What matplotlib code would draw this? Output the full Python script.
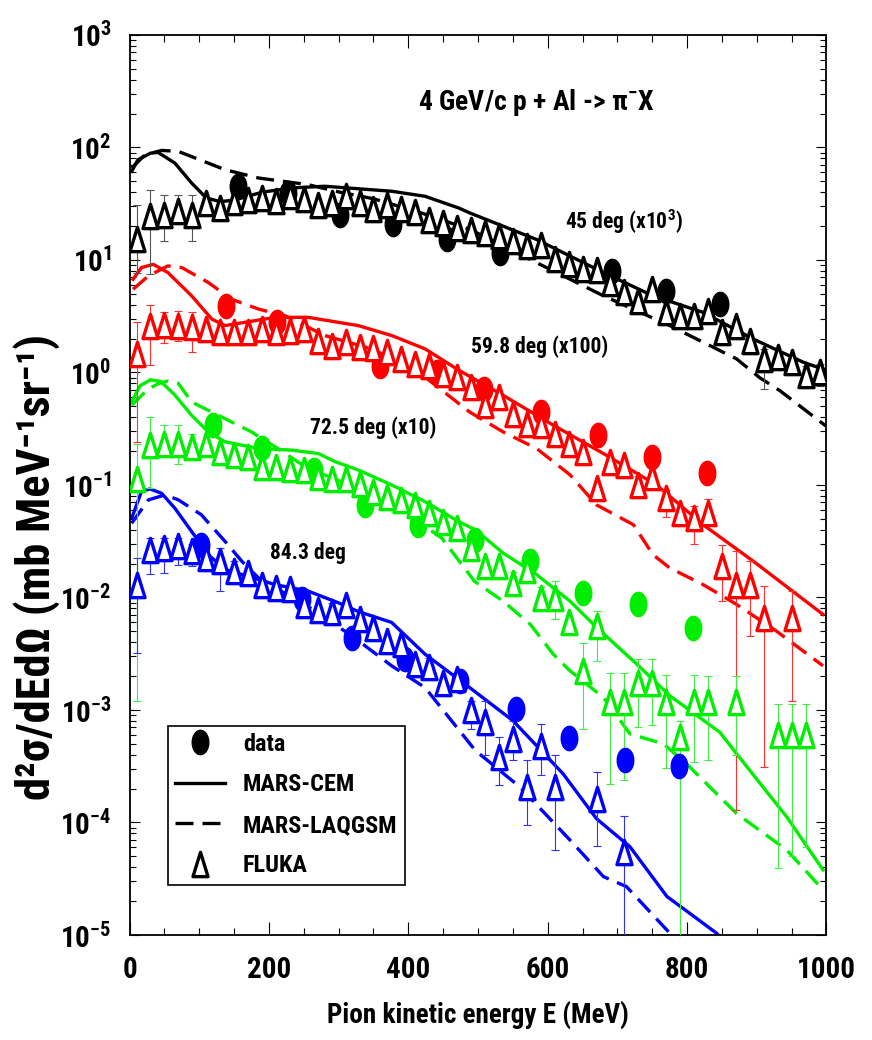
import numpy as np
import matplotlib
matplotlib.use('Agg')
import matplotlib.pyplot as plt
from matplotlib.path import Path
from matplotlib.lines import Line2D
from matplotlib.legend_handler import HandlerLine2D
from matplotlib.ticker import (LogLocator, MultipleLocator, NullFormatter,
                               FixedLocator, LogFormatterSciNotation)

FONT = ['Roboto Condensed', 'Liberation Sans Narrow', 'Liberation Sans', 'DejaVu Sans']
plt.rcParams['font.family'] = FONT
plt.rcParams['font.weight'] = 'bold'
plt.rcParams['mathtext.default'] = 'regular'

nan = float('nan')

# ---------------- data ----------------
fluka_e = [10, 30, 50, 70, 90, 110, 130, 150, 170, 190, 210, 230, 250, 270, 290,
           310, 330, 350, 370, 390, 410, 430, 450, 470, 490, 510, 530, 550, 570,
           590, 610, 630, 650, 670, 690, 710, 730, 750, 770, 790, 810, 830, 850,
           870, 890, 910, 930, 950, 970, 990]

# 45 deg (x10^3)
black_fluka = [15.4, 24.5, 25.3, 27.1, 25.3, 32.2, 29.0, 32.6, 34.4, 35.6, 33.3, 36.8,
               34.9, 31.0, 32.2, 36.8, 32.2, 28.4, 31.0, 28.4, 26.6, 22.6, 21.4, 19.3,
               18.5, 17.4, 16.3, 14.7, 13.3, 13.7, 10.1, 9.15, 8.26, 8.16, 6.30, 5.21,
               4.34, 5.49, 3.42, 3.19, 3.19, 3.54, 2.27, 2.61, 1.92, 1.32, 1.37, 1.23,
               0.94, 1.01]
black_err_e = [10, 30, 50, 70, 90, 910, 970, 990]
black_err_lo = [7.7, 7.46, 14.7, 21.4, 14.7, 0.72, 0.74, 0.76]
black_err_hi = [31.0, 42.0, 38.0, 38.0, 38.0, 1.6, 1.15, 1.2]
black_data_e = [156, 228, 302, 378, 455, 531, 692, 770, 847]
black_data = [45.2, 39.4, 25.3, 20.7, 15.2, 11.6, 8.0, 5.32, 4.05]
black_cem_e = [3, 12, 30, 41, 65, 89, 110, 130, 150, 190, 232, 280, 376, 424, 472,
               488, 584, 680, 751, 823, 895, 967, 999]
black_cem = [61.3, 77.7, 89.0, 90.3, 72.6, 48.3, 35.6, 33.0, 34.0, 40.0, 43.6, 45.2,
             40.8, 36.8, 29.0, 26.2, 15.2, 7.72, 4.80, 3.42, 1.98, 1.23, 1.05]
black_laq_e = [3, 22, 46, 70, 137, 185, 256, 302, 350, 420, 488, 584, 680, 775, 871,
               904, 933, 999]
black_laq = [65.6, 86.0, 94.1, 92.2, 63.4, 53.5, 46.7, 40.0, 35.0, 26.0, 18.7, 9.46,
             4.80, 2.61, 1.32, 0.90, 0.69, 0.335]

# 59.8 deg (x100)
red_fluka = [1.461, 2.61, 2.64, 2.61, 2.52, 2.43, 2.27, 2.31, 2.27, 2.43, 2.27, 2.35,
             2.43, 1.92, 1.73, 1.85, 1.67, 1.64, 1.51, 1.32, 1.19, 1.15, 0.972, 0.909,
             0.75, 0.511, 0.605, 0.430, 0.351, 0.340, 0.286, 0.233, 0.197, 0.0933,
             0.161, 0.150, 0.100, 0.118, 0.0761, 0.0561, 0.0506, 0.0561, 0.0189,
             0.0130, 0.0130, 0.0066, nan, 0.0066, nan, nan]
red_err_e = [10, 30, 50, 70, 90, 730, 770, 810, 830, 850, 870, 890, 910, 950]
red_err_lo = [0.24, 1.17, 1.83, 1.92, 1.53, 0.081, 0.052, 0.030, 0.045, 0.0093,
              1.3e-4, 4.5e-3, 3.1e-4, 1.2e-3]
red_err_hi = [2.79, 3.96, 3.42, 3.5, 3.42, 0.12, 0.09, 0.065, 0.075, 0.0294,
              0.0257, 0.021, 0.0126, 0.0114]
red_data_e = [139, 211, 359, 441, 508, 591, 672, 749, 829]
red_data = [3.92, 2.79, 1.15, 1.0, 0.716, 0.445, 0.277, 0.178, 0.127]
red_cem_e = [5, 17, 34, 55, 89, 118, 137, 209, 256, 328, 376, 424, 472, 536, 608,
             680, 756, 823, 895, 995]
red_cem = [6.73, 8.55, 9.14, 7.72, 4.80, 2.98, 2.61, 3.09, 3.09, 2.61, 2.13, 1.62,
           1.05, 0.626, 0.340, 0.190, 0.100, 0.0443, 0.0210, 0.00707]
red_laq_e = [5, 27, 55, 75, 113, 146, 185, 223, 280, 350, 420, 488, 536, 584, 632,
             670, 723, 751, 775, 823, 871, 928, 995]
red_laq = [5.49, 7.21, 8.85, 8.55, 6.30, 4.48, 3.66, 3.19, 2.13, 1.6, 0.95, 0.445,
           0.296, 0.211, 0.123, 0.0665, 0.0443, 0.0240, 0.0183, 0.0130, 0.00867,
           0.00503, 0.00247]

# 72.5 deg (x10)
green_fluka = [0.114, 0.226, 0.233, 0.233, 0.218, 0.233, 0.197, 0.184, 0.178, 0.145,
               0.145, 0.140, 0.136, 0.118, 0.114, 0.114, 0.103, 0.0873, 0.0788,
               0.0737, 0.0665, 0.0561, 0.0473, 0.0413, 0.0275, 0.0189, 0.0189, 0.0135,
               0.0177, 0.0099, 0.0099, 0.0060, 0.00223, 0.00560, 0.00117, 0.00117,
               0.00175, 0.00175, 0.00117, 0.000572, 0.00117, 0.00117, nan, 0.00117,
               nan, nan, 0.000593, 0.000593, 0.000593, nan]
green_err_e = [10, 30, 50, 70, 90, 550, 590, 610, 650, 670, 690, 710, 730, 750, 770,
               790, 810, 830, 870, 930, 950, 970]
green_err_lo = [1.2e-3, 0.0933, 0.19, 0.155, 0.172, 0.0105, 0.0078, 0.0064, 6.79e-4,
                2.73e-3, 2.21e-4, 2.4e-4, 7.1e-4, 7.3e-4, 3.07e-4, 1e-6, 3.44e-4,
                3.6e-4, 4.0e-4, 3.9e-5, 5.0e-5, 6.0e-5]
green_err_hi = [0.233, 0.402, 0.34, 0.34, 0.286, 0.017, 0.0125, 0.0139, 3.96e-3,
                7.6e-3, 2.15e-3, 2.13e-3, 2.83e-3, 2.83e-3, 2.05e-3, 8e-4, 2.05e-3,
                2.0e-3, 2.0e-3, 1.14e-3, 1.14e-3, 1.14e-3]
green_data_e = [120, 190, 264, 338, 414, 496, 574, 651, 730, 809]
green_data = [0.340, 0.211, 0.136, 0.0665, 0.0443, 0.0326, 0.0210, 0.0110, 0.00867,
              0.00538]
green_cem_e = [3, 15, 30, 45, 65, 89, 113, 137, 185, 233, 271, 295, 328, 376, 424,
               472, 496, 536, 584, 632, 669, 728, 775, 847, 871, 943, 995]
green_cem = [0.55, 0.76, 0.86, 0.83, 0.63, 0.416, 0.296, 0.242, 0.211, 0.204, 0.190,
             0.161, 0.136, 0.100, 0.0711, 0.0473, 0.040, 0.0248, 0.0160, 0.00927,
             0.0055, 0.00255, 0.00134, 6.34e-4, 4.08e-4, 1.12e-4, 3.79e-5]
green_laq_e = [3, 27, 41, 55, 70, 89, 137, 175, 209, 256, 328, 400, 448, 495, 536,
               575, 608, 632, 680, 718, 766, 799, 871, 943, 995]
green_laq = [0.511, 0.716, 0.793, 0.84, 0.80, 0.546, 0.388, 0.296, 0.218, 0.140,
             0.0933, 0.0543, 0.0337, 0.0139, 0.00927, 0.00577, 0.00313, 0.00223,
             0.00129, 6.13e-4, 5.0e-4, 3.33e-4, 1.2e-4, 5.69e-5, 2.52e-5]

# 84.3 deg
blue_fluka = [0.0130, 0.0266, 0.0275, 0.0284, 0.0257, 0.0224, 0.0210, 0.0171, 0.0165,
              0.0130, 0.0122, 0.0118, 0.0085, 0.0078, 0.0074, 0.0086, 0.0064, 0.0053,
              0.0041, 0.00384, 0.00255, 0.00239, 0.00175, 0.00188, 0.00099, 7.77e-4,
              3.8e-4, 5.54e-4, 2.07e-4, 4.83e-4, 2.07e-4, nan, nan, 1.63e-4, nan,
              5.5e-5, nan, nan, nan, nan, nan, nan, nan, nan, nan, nan, nan, nan, nan,
              nan]
blue_err_e = [10, 30, 50, 70, 90, 130, 150, 250, 290, 430, 490, 510, 530, 550, 570,
              590, 610, 670, 710]
blue_err_lo = [3.19e-3, 0.016, 0.0165, 0.0196, 0.019, 0.0114, 0.0135, 0.0068, 0.0060,
               0.0019, 6.8e-4, 3.94e-4, 2.14e-4, 3.56e-4, 9.5e-5, 2.62e-4, 5.7e-5,
               6.2e-5, 1e-6]
blue_err_hi = [0.0224, 0.0337, 0.0337, 0.0337, 0.030, 0.0275, 0.021, 0.0105, 0.0090,
               0.0029, 1.2e-3, 1.21e-3, 5.72e-4, 8.0e-4, 3.56e-4, 7.5e-4, 3.94e-4,
               2.8e-4, 1.14e-4]
blue_data_e = [103, 247, 319, 395, 474, 554, 631, 711, 789]
blue_data = [0.0294, 0.0096, 0.0044, 0.00283, 0.00182, 0.00102, 5.65e-4, 3.56e-4,
             3.2e-4]
blue_cem_e = [3, 17, 29, 46, 65, 89, 113, 137, 161, 209, 256, 299, 328, 376, 424, 488,
              550, 622, 670, 718, 771, 842, 870]
blue_cem = [0.0506, 0.0873, 0.0922, 0.0843, 0.0621, 0.0386, 0.0240, 0.0177, 0.016,
            0.0130, 0.0114, 0.0090, 0.0075, 0.0060, 0.00313, 1.58e-3, 8.04e-4, 2.71e-4,
            1.08e-4, 6.08e-5, 2.2e-5, 1.04e-5, 7e-6]
blue_laq_e = [3, 27, 51, 70, 103, 137, 161, 185, 213, 260, 319, 376, 424, 496, 560,
              632, 680, 713, 775, 790]
blue_laq = [0.0457, 0.0737, 0.0816, 0.0737, 0.0543, 0.0315, 0.0210, 0.0149, 0.0118,
            0.0080, 0.00455, 0.00247, 1.58e-3, 4.37e-4, 2.07e-4, 6.97e-5, 3.3e-5,
            2.69e-5, 1.04e-5, 8e-6]

y_ticks = [1e-5, 1e-4, 1e-3, 1e-2, 1e-1, 1e0, 1e1, 1e2, 1e3]
x_ticks = [0, 200, 400, 600, 800, 1000]
legend_labels = ['data', 'MARS-CEM', 'MARS-LAQGSM', 'FLUKA']

# ---------------- styles ----------------
_t = np.linspace(0, 2 * np.pi, 64)
ELLIPSE = Path(np.column_stack([0.68 * np.cos(_t), np.sin(_t)]), closed=True)
TRI = Path([(0, 1), (-0.62, -1), (0.62, -1), (0, 1)],
           [Path.MOVETO, Path.LINETO, Path.LINETO, Path.CLOSEPOLY])
DASH = (0, (5.4, 2.7))
LW = 2.4
TRI_MS = 17.5
DOT_MS = 17.5

series = [
    ('#000000', '#555555', black_fluka, black_err_e, black_err_lo, black_err_hi,
     black_data_e, black_data, black_cem_e, black_cem, black_laq_e, black_laq),
    ('#ff0000', '#ff3030', red_fluka, red_err_e, red_err_lo, red_err_hi,
     red_data_e, red_data, red_cem_e, red_cem, red_laq_e, red_laq),
    ('#00ee00', '#40ee40', green_fluka, green_err_e, green_err_lo, green_err_hi,
     green_data_e, green_data, green_cem_e, green_cem, green_laq_e, green_laq),
    ('#0000ff', '#3030ff', blue_fluka, blue_err_e, blue_err_lo, blue_err_hi,
     blue_data_e, blue_data, blue_cem_e, blue_cem, blue_laq_e, blue_laq),
]

fig = plt.figure(figsize=(8.72, 10.4), dpi=100)
ax = fig.add_axes([0.1486, 0.1010, 0.7992, 0.8654])

for (col, ecol, fl, ee, elo, ehi, de, dv, ce, cv, le, lv) in series:
    ax.plot(ce, cv, color=col, lw=LW, zorder=2, solid_joinstyle='round')
    ax.plot(le, lv, color=col, lw=LW, ls=DASH, zorder=2, dash_capstyle='butt')
    yc = [fl[fluka_e.index(e)] for e in ee]
    lo = [c - l for c, l in zip(yc, elo)]
    hi = [h - c for c, h in zip(yc, ehi)]
    ax.errorbar(ee, yc, yerr=[lo, hi], fmt='none', ecolor=ecol, elinewidth=0.8,
                capsize=2.6, capthick=0.8, zorder=3)
    ax.plot(de, dv, ls='none', marker=ELLIPSE, ms=DOT_MS, color=col, zorder=4)
    ax.plot(fluka_e, fl, ls='none', marker=TRI, ms=TRI_MS, mfc='white', mec=col,
            mew=2.4, zorder=5)

ax.set_xlim(0, 1000)
ax.set_yscale('log')
ax.set_ylim(1e-5, 1e3)
ax.xaxis.set_major_locator(FixedLocator(x_ticks))
ax.xaxis.set_minor_locator(MultipleLocator(50))
ax.yaxis.set_major_locator(FixedLocator(y_ticks))
ax.yaxis.set_major_formatter(LogFormatterSciNotation())
ax.yaxis.set_minor_locator(LogLocator(base=10, subs=np.arange(2, 10), numticks=200))
ax.yaxis.set_minor_formatter(NullFormatter())

ax.tick_params(which='both', direction='in', top=True, right=True, width=0.8)
ax.tick_params(axis='x', which='major', length=9.5, pad=15, labelsize=21)
ax.tick_params(axis='x', which='minor', length=5)
ax.tick_params(axis='y', which='major', length=7, pad=13, labelsize=21)
ax.tick_params(axis='y', which='minor', length=4)
for s in ax.spines.values():
    s.set_linewidth(1.3)

ax.set_xlabel('Pion kinetic energy E (MeV)', fontsize=19.5, fontweight='bold')
ax.xaxis.set_label_coords(0.5, -0.0744)
ax.set_ylabel('d²σ/dEdΩ (mb MeV⁻¹sr⁻¹)', fontsize=33.5,
              fontweight='bold', rotation=90, rotation_mode='default',
              ha='center', va='center')
ax.yaxis.set_label_coords(-0.133, 0.409)

ax.text(584, 249, '4 GeV/c p + Al -> π$^{-}$X', ha='center', va='center',
        fontsize=20, fontweight='bold')
ax.text(709, 21.9, '45 deg (x10$^{3}$)', ha='center', va='center', fontsize=15.5,
        fontweight='bold')
ax.text(589, 1.71, '59.8 deg (x100)', ha='center', va='center', fontsize=15.5,
        fontweight='bold')
ax.text(349, 0.32, '72.5 deg (x10)', ha='center', va='center', fontsize=15.5,
        fontweight='bold')
ax.text(256, 0.0249, '84.3 deg', ha='center', va='center', fontsize=15.5,
        fontweight='bold')


class RightMarkerHandler(HandlerLine2D):
    def get_xdata(self, legend, xdescent, ydescent, width, height, fontsize):
        xd = np.array([-xdescent, -xdescent + width])
        return xd, np.array([-xdescent + 0.95 * width])


handles = [
    Line2D([], [], ls='none', marker=ELLIPSE, ms=DOT_MS, color='k'),
    Line2D([], [], color='k', lw=LW),
    Line2D([], [], color='k', lw=LW, ls=DASH),
    Line2D([], [], ls='none', marker=TRI, ms=TRI_MS, mfc='white', mec='k', mew=2.4),
]
leg = ax.legend(handles, legend_labels, loc='upper left',
                bbox_to_anchor=(0.0547, 0.2325), borderaxespad=0, frameon=True,
                fancybox=False, edgecolor='k', framealpha=1, handlelength=2.06,
                handletextpad=0.73, labelspacing=0.72, borderpad=0.3,
                prop=dict(size=17.5, weight='bold', family=FONT),
                handler_map={Line2D: RightMarkerHandler()})
leg.get_frame().set_linewidth(1.2)

fig.savefig('out.png', dpi=100)
